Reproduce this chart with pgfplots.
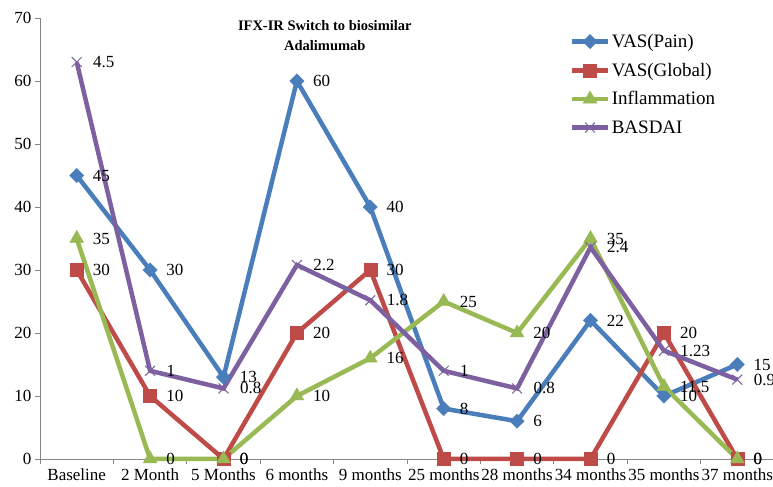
\documentclass[border=0pt]{standalone}
\usepackage{pgfplots}
\pgfplotsset{compat=1.18}
\usepackage{fontspec}
\setmainfont{Liberation Serif}
\definecolor{cblue}{HTML}{4A7EBB}
\definecolor{cred}{HTML}{BE4B48}
\definecolor{cgreen}{HTML}{98B954}
\definecolor{cpurple}{HTML}{7D60A0}
\definecolor{axgray}{HTML}{868686}
\newcommand{\lf}{\fontsize{17bp}{20bp}\selectfont}
\begin{document}
\begin{tikzpicture}[x=1bp,y=1bp]
\path[use as bounding box, clip] (0,0) rectangle (773,487);
\begin{axis}[
  at={(40bp,28bp)}, anchor=south west, scale only axis,
  width=734bp, height=441bp,
  xmin=-0.5, xmax=9.5, ymin=0, ymax=70,
  clip=false,
  axis lines*=left,
  axis line style={draw=axgray, line width=0.8bp},
  xtick={0,...,9},
  xticklabels={Baseline,2 Month,5 Months,6 months,9 months,25 months,28 months,34 months,35 months,37 months},
  minor xtick={-0.5,0.5,...,9.5},
  major x tick style={draw=none},
  minor x tick style={draw=axgray, line width=0.8bp},
  ytick={0,10,...,70},
  ytick style={draw=axgray, line width=0.8bp},
  major tick length=5bp, minor tick length=5bp,
  tick align=outside,
  /pgf/number format/assume math mode=true,
  ticklabel style={font=\lf, text=black},
  xticklabel style={yshift=-1bp},
  title={IFX-IR Switch to biosimilar\\Adalimumab},
  title style={at={(0.388,0.99)}, anchor=north, align=center, font=\fontsize{14.5bp}{20bp}\selectfont\bfseries},
  legend style={at={(0.7215,0.967)}, anchor=north west, draw=none, fill=none,
    font=\fontsize{19bp}{22bp}\selectfont, row sep=11bp, inner sep=0pt,
    nodes={inner sep=1.5bp}},
  legend cell align=left,
  legend image code/.code={\draw[mark repeat=2, mark phase=2, #1] plot coordinates {(0bp,0bp) (18bp,0bp) (36bp,0bp)};},
  every axis plot/.append style={line width=4.5bp},
  nodes near coords,
  point meta=explicit symbolic,
  every node near coord/.append style={anchor=west, xshift=15bp, font=\lf, text=black, inner sep=1bp},
]
\addplot[color=cblue, mark=square*, mark size=5bp, mark options={rotate=45, line width=0.5bp, fill=cblue}]
  table[meta=l] {
x y l
0 45 45
1 30 30
2 13 13
3 60 60
4 40 40
5 8 8
6 6 6
7 22 22
8 10 10
9 15 15
};
\addlegendentry{VAS(Pain)}
\addplot[color=cred, mark=square*, mark size=6.5bp, mark options={line width=0.5bp, fill=cred}]
  table[meta=l] {
x y l
0 30 30
1 10 10
2 0 0
3 20 20
4 30 30
5 0 0
6 0 0
7 0 0
8 20 20
9 0 0
};
\addlegendentry{VAS(Global)}
\addplot[color=cgreen, mark=triangle*, mark size=8bp, mark options={line width=0.5bp, fill=cgreen}]
  table[meta=l] {
x y l
0 35 35
1 0 0
2 0 0
3 10 10
4 16 16
5 25 25
6 20 20
7 35 35
8 11.5 11.5
9 0 0
};
\addlegendentry{Inflammation}
\addplot[color=cpurple, mark=x, mark size=7bp, mark options={line width=1bp}]
  table[meta=l] {
x y l
0 63 4.5
1 14 1
2 11.2 0.8
3 30.8 2.2
4 25.2 1.8
5 14 1
6 11.2 0.8
7 33.6 2.4
8 17.2 1.23
9 12.6 0.9
};
\addlegendentry{BASDAI}
\end{axis}
\end{tikzpicture}
\end{document}
